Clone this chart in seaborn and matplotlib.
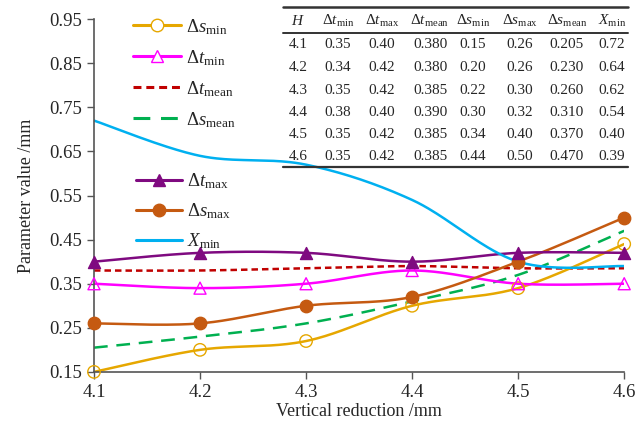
import numpy as np
import pandas as pd
import matplotlib
matplotlib.use('Agg')
import matplotlib.pyplot as plt
from matplotlib.lines import Line2D
import seaborn as sns

H = [4.1, 4.2, 4.3, 4.4, 4.5, 4.6]
dt_min = [0.35, 0.34, 0.35, 0.38, 0.35, 0.35]
dt_max = [0.40, 0.42, 0.42, 0.40, 0.42, 0.42]
dt_mean = [0.380, 0.380, 0.385, 0.390, 0.385, 0.385]
ds_min = [0.15, 0.20, 0.22, 0.30, 0.34, 0.44]
ds_max = [0.26, 0.26, 0.30, 0.32, 0.40, 0.50]
ds_mean = [0.205, 0.230, 0.260, 0.310, 0.370, 0.470]
x_min = [0.72, 0.64, 0.62, 0.54, 0.40, 0.39]

y_ticks = [0.15, 0.25, 0.35, 0.45, 0.55, 0.65, 0.75, 0.85, 0.95]


def smooth(xs, ys, n=40):
    # Catmull-Rom curve through the points (like Excel's smoothed lines)
    P = np.column_stack([xs, ys]).astype(float)
    P = np.vstack([P[0], P, P[-1]])
    t = np.linspace(0, 1, n)[:, None]
    out = []
    for i in range(1, len(P) - 2):
        p0, p1, p2, p3 = P[i - 1], P[i], P[i + 1], P[i + 2]
        seg = 0.5 * (2 * p1 + (-p0 + p2) * t
                     + (2 * p0 - 5 * p1 + 4 * p2 - p3) * t ** 2
                     + (-p0 + 3 * p1 - 3 * p2 + p3) * t ** 3)
        out.append(seg if i == 1 else seg[1:])
    out = np.vstack(out)
    return out[:, 0], out[:, 1]


sns.set_style('ticks')
plt.rcParams['font.family'] = ['Liberation Serif', 'DejaVu Serif']
plt.rcParams['mathtext.fontset'] = 'custom'
plt.rcParams['mathtext.rm'] = 'Liberation Serif'
plt.rcParams['mathtext.it'] = 'Liberation Serif:italic'

fig = plt.figure(figsize=(6.35, 4.26), dpi=100)
ax = fig.add_axes([0.148, 0.127, 0.835, 0.828])

# series: (values, label, color, linestyle, marker, filled)
series = [
    (ds_mean, r'$\Delta s_{\mathrm{mean}}$', '#00B050', (0, (5.5, 3.5)), None, False),
    (dt_mean, r'$\Delta t_{\mathrm{mean}}$', '#C00000', (0, (2.6, 1.6)), None, False),
    (ds_min, r'$\Delta s_{\mathrm{min}}$', '#E6A700', '-', 'o', False),
    (dt_min, r'$\Delta t_{\mathrm{min}}$', '#FF00FF', '-', '^', False),
    (ds_max, r'$\Delta s_{\mathrm{max}}$', '#C55A11', '-', 'o', True),
    (dt_max, r'$\Delta t_{\mathrm{max}}$', '#7F0A80', '-', '^', True),
    (x_min, r'$X_{\mathrm{min}}$', '#00B0F0', '-', None, False),
]

handles = {}
for vals, label, color, ls, marker, filled in series:
    sx, sy = smooth(H, vals)
    df = pd.DataFrame({'x': sx, 'y': sy})
    sns.lineplot(data=df, x='x', y='y', ax=ax, color=color, linewidth=1.8,
                 linestyle=ls, sort=False, estimator=None)
    if marker:
        pts = pd.DataFrame({'x': H, 'y': vals})
        msize = 80 if marker == 'o' else 75
        if filled:
            sns.scatterplot(data=pts, x='x', y='y', ax=ax, marker=marker, s=msize,
                            color=color, edgecolor=color, linewidth=1, zorder=4,
                            clip_on=False)
        else:
            sns.scatterplot(data=pts, x='x', y='y', ax=ax, marker=marker, s=msize,
                            facecolor='none', edgecolor=color, linewidth=1, zorder=4,
                            clip_on=False)
    handles[label] = Line2D([], [], color=color, linewidth=2.2, linestyle=ls,
                            marker=marker if marker else None, markersize=9,
                            markerfacecolor=color if filled else 'white',
                            markeredgecolor=color)

ax.set_xlim(4.1, 4.6)
ax.set_ylim(0.15, 0.95)
ax.set_xticks(H)
ax.set_xticklabels([f'{v:.1f}' for v in H])
ax.set_yticks(y_ticks)
ax.set_yticklabels([f'{v:.2f}' for v in y_ticks])
ax.tick_params(labelsize=13.5, length=5, width=1, color='#555555', direction='out')
ax.set_xlabel('Vertical reduction /mm', fontsize=13, labelpad=2)
ax.set_ylabel('Parameter value /mm', fontsize=13, labelpad=10)
for side in ['top', 'right']:
    ax.spines[side].set_visible(False)
for side in ['left', 'bottom']:
    ax.spines[side].set_color('#555555')
    ax.spines[side].set_linewidth(1.2)

# legends, split in two blocks like the reference
order1 = [r'$\Delta s_{\mathrm{min}}$', r'$\Delta t_{\mathrm{min}}$',
          r'$\Delta t_{\mathrm{mean}}$', r'$\Delta s_{\mathrm{mean}}$']
order2 = [r'$\Delta t_{\mathrm{max}}$', r'$\Delta s_{\mathrm{max}}$', r'$X_{\mathrm{min}}$']
leg1 = fig.legend([handles[k] for k in order1], order1, loc='upper left',
                  bbox_to_anchor=(0.209, 0.960), frameon=False, fontsize=13.5,
                  handlelength=2.55, handletextpad=0.3, labelspacing=0.6,
                  borderpad=0, borderaxespad=0)
leg2 = fig.legend([handles[k] for k in order2], order2, loc='upper left',
                  bbox_to_anchor=(0.214, 0.597), frameon=False, fontsize=13.5,
                  handlelength=2.45, handletextpad=0.3, labelspacing=0.55,
                  borderpad=0, borderaxespad=0)

# table in the upper right corner
W, Hpx = 635.0, 426.0
col_x = [298, 338, 382, 430, 473, 520, 567, 612]
header = [r'$H$', r'$\Delta t_{\mathrm{min}}$', r'$\Delta t_{\mathrm{max}}$',
          r'$\Delta t_{\mathrm{mean}}$', r'$\Delta s_{\mathrm{min}}$',
          r'$\Delta s_{\mathrm{max}}$', r'$\Delta s_{\mathrm{mean}}$', r'$X_{\mathrm{min}}$']
for cx, txt in zip(col_x, header):
    fig.text(cx / W, 1 - 21 / Hpx, txt, fontsize=11, ha='center', va='center')
row_y = [45, 67.5, 90, 112, 134, 156]
for i, ry in enumerate(row_y):
    cells = [f'{H[i]:.1f}', f'{dt_min[i]:.2f}', f'{dt_max[i]:.2f}', f'{dt_mean[i]:.3f}',
             f'{ds_min[i]:.2f}', f'{ds_max[i]:.2f}', f'{ds_mean[i]:.3f}', f'{x_min[i]:.2f}']
    for cx, txt in zip(col_x, cells):
        fig.text(cx / W, 1 - ry / Hpx, txt, fontsize=11, ha='center', va='center')
for ly, lw in [(7, 1.8), (33, 1.4), (167, 1.6)]:
    fig.add_artist(Line2D([283 / W, 628 / W], [1 - ly / Hpx, 1 - ly / Hpx],
                          color='#333333', linewidth=lw, transform=fig.transFigure))

plt.savefig('out.png', dpi=100)
plt.close()
